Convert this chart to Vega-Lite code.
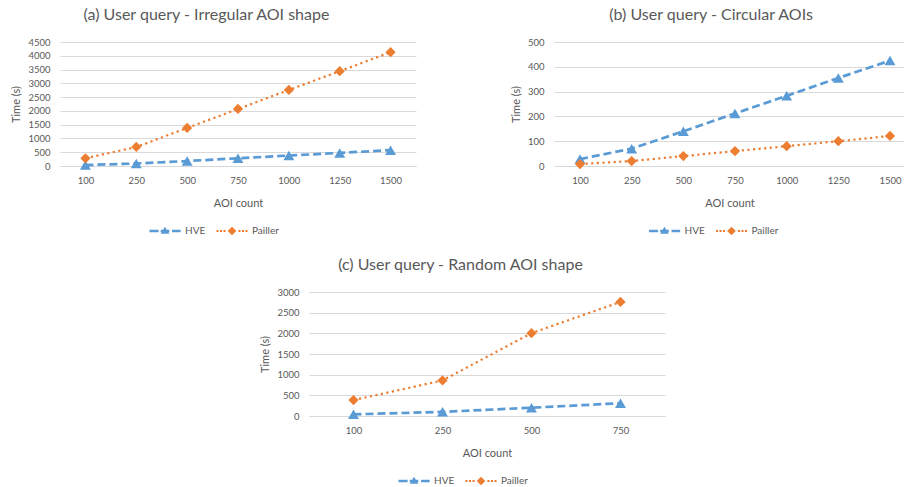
{
  "$schema": "https://vega.github.io/schema/vega-lite/v6.json",
  "padding": {"left": 10, "top": 7, "right": 0, "bottom": 0},
  "background": "white",
  "config": {
    "font": "Lato",
    "view": {"stroke": null},
    "axis": {"labelFont": "Lato", "titleFont": "Lato", "labelColor": "#595959", "titleColor": "#595959", "labelFontSize": 9.5, "titleFontSize": 11, "titleFontWeight": "normal", "gridColor": "#d9d9d9", "domainColor": "#d9d9d9", "ticks": false},
    "axisX": {"grid": false, "labelAngle": 0, "labelPadding": 9, "titlePadding": 13},
    "axisY": {"domain": false, "labelPadding": 10, "titlePadding": 6, "format": "d"},
    "title": {"font": "Lato", "fontSize": 16, "fontWeight": "normal", "color": "#595959", "frame": "bounds", "anchor": "middle", "offset": 14},
    "legend": {"labelFont": "Lato", "labelFontSize": 10, "labelColor": "#595959", "symbolSize": 1024, "symbolOpacity": 1, "symbolStrokeWidth": 0, "labelOffset": 4, "columnPadding": 10, "direction": "horizontal", "orient": "none", "title": null}
  },
  "datasets": {
    "a": [
      {"aoi": 100, "series": "HVE", "time": 35},
      {"aoi": 250, "series": "HVE", "time": 90},
      {"aoi": 500, "series": "HVE", "time": 180},
      {"aoi": 750, "series": "HVE", "time": 280},
      {"aoi": 1000, "series": "HVE", "time": 380},
      {"aoi": 1250, "series": "HVE", "time": 475},
      {"aoi": 1500, "series": "HVE", "time": 575},
      {"aoi": 100, "series": "Pailler", "time": 280},
      {"aoi": 250, "series": "Pailler", "time": 690},
      {"aoi": 500, "series": "Pailler", "time": 1380},
      {"aoi": 750, "series": "Pailler", "time": 2070},
      {"aoi": 1000, "series": "Pailler", "time": 2760},
      {"aoi": 1250, "series": "Pailler", "time": 3440},
      {"aoi": 1500, "series": "Pailler", "time": 4130}
    ],
    "b": [
      {"aoi": 100, "series": "HVE", "time": 28},
      {"aoi": 250, "series": "HVE", "time": 70},
      {"aoi": 500, "series": "HVE", "time": 140},
      {"aoi": 750, "series": "HVE", "time": 212},
      {"aoi": 1000, "series": "HVE", "time": 283},
      {"aoi": 1250, "series": "HVE", "time": 355},
      {"aoi": 1500, "series": "HVE", "time": 425},
      {"aoi": 100, "series": "Pailler", "time": 8},
      {"aoi": 250, "series": "Pailler", "time": 20},
      {"aoi": 500, "series": "Pailler", "time": 40},
      {"aoi": 750, "series": "Pailler", "time": 60},
      {"aoi": 1000, "series": "Pailler", "time": 80},
      {"aoi": 1250, "series": "Pailler", "time": 100},
      {"aoi": 1500, "series": "Pailler", "time": 121}
    ],
    "c": [
      {"aoi": 100, "series": "HVE", "time": 40},
      {"aoi": 250, "series": "HVE", "time": 100},
      {"aoi": 500, "series": "HVE", "time": 200},
      {"aoi": 750, "series": "HVE", "time": 310},
      {"aoi": 100, "series": "Pailler", "time": 385},
      {"aoi": 250, "series": "Pailler", "time": 860},
      {"aoi": 500, "series": "Pailler", "time": 2005},
      {"aoi": 750, "series": "Pailler", "time": 2760}
    ]
  },
  "spacing": 21,
  "resolve": {"scale": {"color": "independent", "shape": "independent"}, "legend": {"color": "independent", "shape": "independent"}},
  "vconcat": [
    {
      "hconcat": [
        {
          "data": {"name": "a"},
          "width": 356, "height": 124,
          "title": {"text": "(a) User query - Irregular AOI shape", "dx": -7},
          "encoding": {
            "x": {"field": "aoi", "type": "ordinal", "scale": {"type": "point", "padding": 0.5}, "axis": {"title": "AOI count"}},
            "y": {"field": "time", "type": "quantitative", "scale": {"domain": [0, 4500]}, "axis": {"title": "Time (s)", "values": [0, 500, 1000, 1500, 2000, 2500, 3000, 3500, 4000, 4500]}}
          },
          "layer": [
            {"transform": [{"filter": "datum.series === 'HVE'"}], "mark": {"type": "line", "color": "#5B9BD5", "strokeWidth": 2.7, "strokeDash": [8, 4]}},
            {"transform": [{"filter": "datum.series === 'Pailler'"}], "mark": {"type": "line", "color": "#ED7D31", "strokeWidth": 2.2, "strokeDash": [2.2, 3.4]}},
            {"transform": [{"filter": "datum.series === 'HVE'"}], "mark": {"type": "point", "shape": "triangle-up", "filled": true, "color": "#5B9BD5", "size": 120, "opacity": 1}},
            {"transform": [{"filter": "datum.series === 'Pailler'"}], "mark": {"type": "point", "shape": "diamond", "filled": true, "color": "#ED7D31", "size": 105, "opacity": 1}},
            {
              "mark": {"type": "point", "filled": true, "opacity": 0, "size": 1024},
              "encoding": {
                "color": {"field": "series", "type": "nominal", "scale": {"domain": ["HVE", "Pailler"], "range": ["#5B9BD5", "#ED7D31"]}, "legend": {"legendX": 89, "legendY": 173}},
                "shape": {"field": "series", "type": "nominal", "scale": {"domain": ["HVE", "Pailler"], "range": ["M-0.97,-0.08L-0.4,-0.08L-0.4,0.08L-0.97,0.08Z M-0.27,-0.08L0.27,-0.08L0.27,0.08L-0.27,0.08Z M0.44,-0.08L0.98,-0.08L0.98,0.08L0.44,0.08Z M-0.27,0.17L0,-0.26L0.27,0.17Z", "M-0.97,-0.065L-0.84,-0.065L-0.84,0.065L-0.97,0.065Z M-0.75,-0.065L-0.62,-0.065L-0.62,0.065L-0.75,0.065Z M-0.53,-0.065L-0.4,-0.065L-0.4,0.065L-0.53,0.065Z M-0.27,0L0,-0.27L0.27,0L0,0.27Z M0.4,-0.065L0.53,-0.065L0.53,0.065L0.4,0.065Z M0.62,-0.065L0.75,-0.065L0.75,0.065L0.62,0.065Z M0.84,-0.065L0.97,-0.065L0.97,0.065L0.84,0.065Z"]}, "legend": {"legendX": 89, "legendY": 173}}
              }
            }
          ]
        },
        {
          "data": {"name": "b"},
          "width": 351, "height": 124,
          "title": {"text": "(b) User query - Circular AOIs", "dx": 3},
          "encoding": {
            "x": {"field": "aoi", "type": "ordinal", "scale": {"type": "point", "padding": 0.397, "align": 0.634}, "axis": {"title": "AOI count"}},
            "y": {"field": "time", "type": "quantitative", "scale": {"domain": [0, 500]}, "axis": {"title": "Time (s)", "values": [0, 100, 200, 300, 400, 500]}}
          },
          "layer": [
            {"transform": [{"filter": "datum.series === 'HVE'"}], "mark": {"type": "line", "color": "#5B9BD5", "strokeWidth": 2.7, "strokeDash": [8, 4]}},
            {"transform": [{"filter": "datum.series === 'Pailler'"}], "mark": {"type": "line", "color": "#ED7D31", "strokeWidth": 2.2, "strokeDash": [2.2, 3.4]}},
            {"transform": [{"filter": "datum.series === 'HVE'"}], "mark": {"type": "point", "shape": "triangle-up", "filled": true, "color": "#5B9BD5", "size": 120, "opacity": 1}},
            {"transform": [{"filter": "datum.series === 'Pailler'"}], "mark": {"type": "point", "shape": "diamond", "filled": true, "color": "#ED7D31", "size": 105, "opacity": 1}},
            {
              "mark": {"type": "point", "filled": true, "opacity": 0, "size": 1024},
              "encoding": {
                "color": {"field": "series", "type": "nominal", "scale": {"domain": ["HVE", "Pailler"], "range": ["#5B9BD5", "#ED7D31"]}, "legend": {"legendX": 94.5, "legendY": 173}},
                "shape": {"field": "series", "type": "nominal", "scale": {"domain": ["HVE", "Pailler"], "range": ["M-0.97,-0.08L-0.4,-0.08L-0.4,0.08L-0.97,0.08Z M-0.27,-0.08L0.27,-0.08L0.27,0.08L-0.27,0.08Z M0.44,-0.08L0.98,-0.08L0.98,0.08L0.44,0.08Z M-0.27,0.17L0,-0.26L0.27,0.17Z", "M-0.97,-0.065L-0.84,-0.065L-0.84,0.065L-0.97,0.065Z M-0.75,-0.065L-0.62,-0.065L-0.62,0.065L-0.75,0.065Z M-0.53,-0.065L-0.4,-0.065L-0.4,0.065L-0.53,0.065Z M-0.27,0L0,-0.27L0.27,0L0,0.27Z M0.4,-0.065L0.53,-0.065L0.53,0.065L0.4,0.065Z M0.62,-0.065L0.75,-0.065L0.75,0.065L0.62,0.065Z M0.84,-0.065L0.97,-0.065L0.97,0.065L0.84,0.065Z"]}, "legend": {"legendX": 94.5, "legendY": 173}}
              }
            }
          ]
        }
      ],
      "spacing": 94,
      "resolve": {"scale": {"color": "independent", "shape": "independent"}, "legend": {"color": "independent", "shape": "independent"}}
    },
    {
      "hconcat": [
        {
          "data": {"values": []},
          "width": 1, "height": 1,
          "mark": {"type": "point", "opacity": 0},
          "encoding": {}
        },
        {
          "data": {"name": "c"},
          "width": 356, "height": 124,
          "title": {"text": "(c) User query - Random AOI shape", "dx": -2},
          "encoding": {
            "x": {"field": "aoi", "type": "ordinal", "scale": {"type": "point", "padding": 0.5}, "axis": {"title": "AOI count"}},
            "y": {"field": "time", "type": "quantitative", "scale": {"domain": [0, 3000]}, "axis": {"title": "Time (s)", "values": [0, 500, 1000, 1500, 2000, 2500, 3000]}}
          },
          "layer": [
            {"transform": [{"filter": "datum.series === 'HVE'"}], "mark": {"type": "line", "color": "#5B9BD5", "strokeWidth": 2.7, "strokeDash": [8, 4]}},
            {"transform": [{"filter": "datum.series === 'Pailler'"}], "mark": {"type": "line", "color": "#ED7D31", "strokeWidth": 2.2, "strokeDash": [2.2, 3.4]}},
            {"transform": [{"filter": "datum.series === 'HVE'"}], "mark": {"type": "point", "shape": "triangle-up", "filled": true, "color": "#5B9BD5", "size": 120, "opacity": 1}},
            {"transform": [{"filter": "datum.series === 'Pailler'"}], "mark": {"type": "point", "shape": "diamond", "filled": true, "color": "#ED7D31", "size": 105, "opacity": 1}},
            {
              "mark": {"type": "point", "filled": true, "opacity": 0, "size": 1024},
              "encoding": {
                "color": {"field": "series", "type": "nominal", "scale": {"domain": ["HVE", "Pailler"], "range": ["#5B9BD5", "#ED7D31"]}, "legend": {"legendX": 89, "legendY": 173}},
                "shape": {"field": "series", "type": "nominal", "scale": {"domain": ["HVE", "Pailler"], "range": ["M-0.97,-0.08L-0.4,-0.08L-0.4,0.08L-0.97,0.08Z M-0.27,-0.08L0.27,-0.08L0.27,0.08L-0.27,0.08Z M0.44,-0.08L0.98,-0.08L0.98,0.08L0.44,0.08Z M-0.27,0.17L0,-0.26L0.27,0.17Z", "M-0.97,-0.065L-0.84,-0.065L-0.84,0.065L-0.97,0.065Z M-0.75,-0.065L-0.62,-0.065L-0.62,0.065L-0.75,0.065Z M-0.53,-0.065L-0.4,-0.065L-0.4,0.065L-0.53,0.065Z M-0.27,0L0,-0.27L0.27,0L0,0.27Z M0.4,-0.065L0.53,-0.065L0.53,0.065L0.4,0.065Z M0.62,-0.065L0.75,-0.065L0.75,0.065L0.62,0.065Z M0.84,-0.065L0.97,-0.065L0.97,0.065L0.84,0.065Z"]}, "legend": {"legendX": 89, "legendY": 173}}
              }
            }
          ]
        }
      ],
      "spacing": 198,
      "resolve": {"scale": {"color": "independent", "shape": "independent"}, "legend": {"color": "independent", "shape": "independent"}}
    }
  ]
}
